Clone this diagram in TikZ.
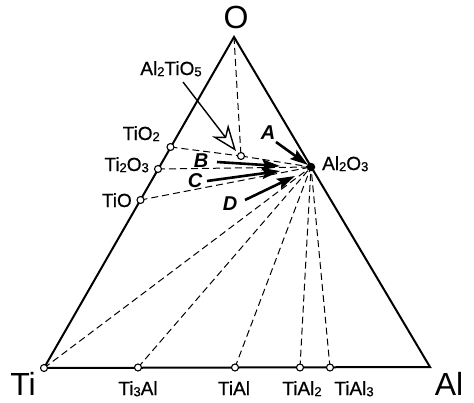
\documentclass[tikz,border=0pt]{standalone}
\usepackage{fontspec}
\setmainfont{Liberation Sans}
\newfontfamily\labfont{Liberation Sans}[FakeBold=0.6]
\usetikzlibrary{arrows.meta}
\newcommand{\sbs}[1]{\raisebox{-1.2pt}{\fontsize{13}{13}\selectfont #1}}
\tikzset{
  x=1pt, y=-1pt,
  side/.style={line width=2pt, line join=miter},
  tie/.style={line width=1pt, dash pattern=on 7pt off 4pt},
  pt/.style={circle, draw, fill=white, line width=1.1pt, inner sep=0pt, minimum size=7pt},
  ptfill/.style={circle, fill=black, inner sep=0pt, minimum size=8.5pt},
  big/.style={font=\fontsize{32}{32}\selectfont, inner sep=0pt},
  lab/.style={font=\labfont\fontsize{19}{19}\selectfont, inner sep=0pt},
  letter/.style={font=\fontsize{20}{20}\selectfont\bfseries\itshape, inner sep=0pt},
  bigarrow/.style={line width=2.6pt, -{Stealth[length=18pt,width=11pt,inset=3pt]}},
  openarrow/.style={line width=1.4pt, -{Stealth[open,length=26pt,width=20pt,inset=8pt,fill=white]}}
}
\begin{document}
\begin{tikzpicture}
\useasboundingbox (0,0) rectangle (474,402);
% corners and compound points
\coordinate (O) at (234,37);
\coordinate (Ti) at (44,368);
\coordinate (Al) at (430,367);
\coordinate (TiO2) at (170.5,147);
\coordinate (Ti2O3) at (158,169);
\coordinate (TiO) at (140.5,200);
\coordinate (Al2O3) at (311,167);
\coordinate (Al2TiO5) at (241,156);
\coordinate (Ti3Al) at (138,367.5);
\coordinate (TiAl) at (235,367.5);
\coordinate (TiAl2) at (300,367.5);
\coordinate (TiAl3) at (330,367.5);
% triangle
\draw[side] (Ti) -- (O) -- (Al) -- cycle;
% tie lines
\draw[tie] (O) -- (Al2TiO5);
\draw[tie] (TiO2) -- (Al2TiO5);
\draw[tie] (Al2TiO5) -- (Al2O3);
\draw[tie] (Ti2O3) -- (Al2O3);
\draw[tie] (TiO) -- (Al2O3);
\draw[tie] (Ti) -- (Al2O3);
\draw[tie] (Ti3Al) -- (Al2O3);
\draw[tie] (TiAl) -- (Al2O3);
\draw[tie] (TiAl2) -- (Al2O3);
\draw[tie] (TiAl3) -- (Al2O3);
% point markers
\node[pt] (pTiO2) at (TiO2) {};
\node[pt] (pTi2O3) at (Ti2O3) {};
\node[pt] (pTiO) at (TiO) {};
\node[pt] (pAl2TiO5) at (Al2TiO5) {};
\node[pt] (pTi) at (Ti) {};
\node[pt] (pTi3Al) at (Ti3Al) {};
\node[pt] (pTiAl) at (TiAl) {};
\node[pt] (pTiAl2) at (TiAl2) {};
\node[pt] (pTiAl3) at (TiAl3) {};
\node[ptfill] (pAl2O3) at (Al2O3) {};
% corner labels
\node[big, anchor=base] (lO) at (236,28) {O};
\node[big, anchor=base] (lTi) at (23,395) {Ti};
\node[big, anchor=base] (lAl) at (449,395) {Al};
% compound labels
\node[lab, anchor=base east] (lTiO2) at (160,140) {TiO\sbs{2}};
\node[lab, anchor=base east] (lTi2O3) at (149,171) {Ti\sbs{2}O\sbs{3}};
\node[lab, anchor=base east] (lTiO) at (132,207) {TiO};
\node[lab, anchor=base west] (lAl2O3) at (322,170) {Al\sbs{2}O\sbs{3}};
\node[lab, anchor=base] (lAl2TiO5) at (171,75) {Al\sbs{2}TiO\sbs{5}};
\node[lab, anchor=base] (lTi3Al) at (138,395) {Ti\sbs{3}Al};
\node[lab, anchor=base] (lTiAl) at (234,395) {TiAl};
\node[lab, anchor=base] (lTiAl2) at (302,395) {TiAl\sbs{2}};
\node[lab, anchor=base] (lTiAl3) at (354,395) {TiAl\sbs{3}};
% path letters
\node[letter] (lA) at (268,133) {A};
\node[letter] (lB) at (201,161) {B};
\node[letter] (lC) at (195,181) {C};
\node[letter] (lD) at (230,204) {D};
% arrows
\coordinate (sA) at (276,142);
\coordinate (tA) at (308,165);
\coordinate (sB) at (217,162);
\coordinate (tB) at (280,166);
\coordinate (sC) at (207,181);
\coordinate (tC) at (280,171);
\coordinate (sD) at (245,200);
\coordinate (tD) at (295,176);
\coordinate (sO) at (183,82);
\coordinate (tO) at (236,151);
\draw[bigarrow] (sA) -- (tA);
\draw[bigarrow] (sB) -- (tB);
\draw[bigarrow] (sC) -- (tC);
\draw[bigarrow] (sD) -- (tD);
\draw[openarrow] (sO) -- (tO);
\end{tikzpicture}
\end{document}
